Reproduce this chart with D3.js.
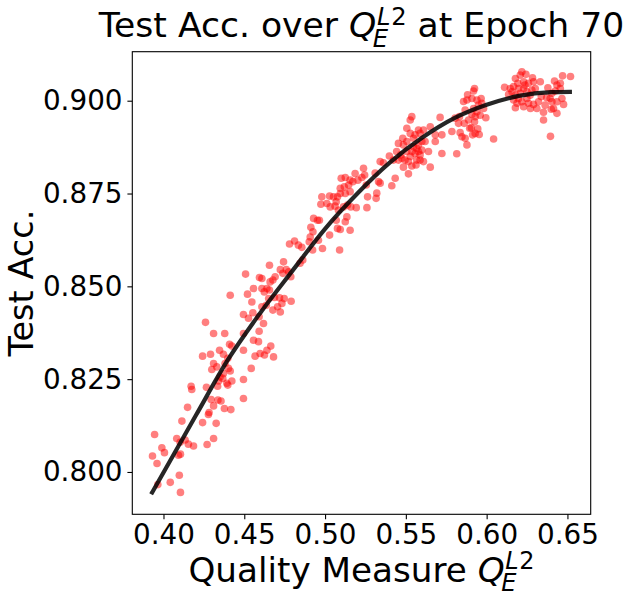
<!DOCTYPE html>
<html><head><meta charset="utf-8">
<script src="https://cdn.jsdelivr.net/npm/d3@7"></script>
<style>body{margin:0;background:#fff}svg{display:block}text{font-family:"DejaVu Sans",sans-serif;fill:#000}</style>
</head><body><svg id="chart" width="630" height="604"></svg>
<script>
const titlePre = "Test Acc. over";
const titlePost = "at Epoch 70";
const xLabelPre = "Quality Measure";
const yLabel = "Test Acc.";
const xTicks = [0.40, 0.45, 0.50, 0.55, 0.60, 0.65];
const yTicks = [0.800, 0.825, 0.850, 0.875, 0.900];

const pointQ = [
0.4260,0.4310,0.4379,0.4495,0.4526,0.4553,0.4592,0.4619,0.4592,0.4495,0.4557,0.4588,0.4409,0.4423,0.4495,0.4567,0.4598,0.4625,0.4242,0.4291,
0.4347,0.4371,0.4398,0.4381,0.4310,0.4330,0.4299,0.4402,0.4413,0.4371,0.4350,0.4341,0.4367,0.4423,0.4392,0.4398,0.4495,0.4543,0.4171,0.4175,
0.4266,0.4335,0.4495,0.4295,0.4337,0.4356,0.4310,0.4377,0.4417,0.4149,0.4282,0.4278,0.4114,0.4242,0.4326,0.3945,0.4082,0.4134,0.4103,0.4154,
0.4186,0.4310,0.4270,0.3990,0.4006,0.3932,0.4093,0.4105,0.3960,0.4098,0.4042,0.3965,0.4105,
0.5100,0.5125,0.5155,0.5172,0.5186,0.5203,0.5228,0.5245,0.5255,0.5146,0.5119,0.5094,0.5155,0.5125,0.5094,0.5077,0.5052,0.5028,0.4980,0.4974,
0.5011,0.5032,0.5069,0.5062,0.5083,0.5114,0.5139,0.5159,0.5193,0.5259,0.5263,0.5135,0.5125,0.5069,0.5077,0.5094,0.5155,0.5028,0.4953,0.4929,
0.4965,0.4912,0.4925,0.4908,0.4902,0.4959,0.4984,0.4923,0.5090,0.4856,0.4835,0.4811,0.4780,0.4862,0.4845,0.4743,0.4656,0.4723,0.4760,0.4775,
0.4788,0.4739,0.4691,0.4677,0.4660,0.4594,0.4609,0.4508,0.4640,0.4656,0.4609,0.4624,0.4557,0.4520,0.4413,0.4651,0.4687,0.4718,0.4747,0.4790,
0.4733,0.4706,0.4677,0.4723,0.4636,0.4609,0.4547,0.4664,0.4640,0.4681,
0.5238,0.5310,0.5341,0.5361,0.5398,0.5423,0.5454,0.5475,0.5443,0.5454,0.5481,0.5485,0.5506,0.5506,0.5527,0.5537,0.5527,0.5547,0.5557,0.5578,
0.5588,0.5609,0.5599,0.5578,0.5547,0.5537,0.5527,0.5557,0.5578,0.5588,0.5567,0.5563,0.5537,0.5609,0.5599,0.5619,0.5640,0.5651,0.5485,0.5516,
0.5495,0.5468,0.5434,0.5413,0.5341,0.5331,0.5320,0.5316,0.5651,0.5682,0.5682,0.5712,0.5723,0.5723,0.5785,0.5815,0.5805,0.5832,0.5826,0.5836,
0.5867,0.5878,0.5847,0.5867,0.5878,0.5857,0.5882,0.5888,0.5861,0.5895,0.5506,0.5567,0.5516,0.5588,
0.5925,0.5919,0.5909,0.5940,0.5966,0.5949,0.5970,0.5981,0.5995,0.5960,0.5929,0.5909,0.5940,0.5919,0.5925,0.5905,0.5945,0.5954,0.5929,0.5913,
0.6043,0.6111,0.6178,0.6208,0.6218,0.6243,0.6193,0.6229,0.6259,0.6284,0.6290,0.6229,0.6197,0.6167,0.6157,0.6136,0.6178,0.6208,0.6249,0.6280,
0.6301,0.6167,0.6188,0.6218,0.6249,0.6259,0.6178,0.6229,0.6290,0.6271,0.6332,0.6338,0.6321,0.6311,0.6362,0.6352,0.6352,0.6379,0.6393,0.6404,
0.6420,0.6435,0.6425,0.6456,0.6466,0.6435,0.6414,0.6400,0.6435,0.6476,0.6470,0.6519,0.6456,0.6395,0.6372,0.6404,0.6197,0.6237,0.6269,0.6146
];
const pointAcc = [
0.8403,0.8373,0.8373,0.8424,0.8414,0.8429,0.8418,0.8400,0.8379,0.8373,0.8355,0.8351,0.8344,0.8339,0.8328,0.8312,0.8319,0.8315,0.8312,0.8317,
0.8328,0.8317,0.8306,0.8292,0.8292,0.8283,0.8276,0.8279,0.8272,0.8265,0.8256,0.8245,0.8252,0.8245,0.8239,0.8234,0.8249,0.8279,0.8231,0.8222,
0.8228,0.8231,0.8198,0.8195,0.8194,0.8191,0.8178,0.8171,0.8168,0.8174,0.8160,0.8155,0.8137,0.8133,0.8131,0.8101,0.8090,0.8086,0.8080,0.8075,
0.8070,0.8090,0.8074,0.8065,0.8052,0.8043,0.8045,0.8048,0.8023,0.7991,0.7972,0.7966,0.7945,
0.8791,0.8793,0.8786,0.8782,0.8804,0.8786,0.8793,0.8800,0.8773,0.8773,0.8768,0.8764,0.8755,0.8750,0.8750,0.8741,0.8741,0.8743,0.8741,0.8721,
0.8723,0.8714,0.8728,0.8716,0.8705,0.8714,0.8719,0.8714,0.8712,0.8712,0.8741,0.8687,0.8674,0.8678,0.8656,0.8653,0.8651,0.8638,0.8678,0.8683,
0.8678,0.8659,0.8647,0.8633,0.8620,0.8624,0.8602,0.8598,0.8598,0.8605,0.8611,0.8622,0.8614,0.8571,0.8562,0.8566,0.8557,0.8545,0.8545,0.8539,
0.8526,0.8535,0.8526,0.8517,0.8512,0.8524,0.8521,0.8533,0.8494,0.8490,0.8494,0.8485,0.8494,0.8479,0.8476,0.8467,0.8470,0.8469,0.8467,0.8460,
0.8454,0.8445,0.8436,0.8431,0.8449,0.8445,0.8458,0.8339,0.8328,0.8310,
0.8818,0.8805,0.8836,0.8833,0.8851,0.8840,0.8840,0.8845,0.8863,0.8885,0.8899,0.8881,0.8890,0.8926,0.8948,0.8957,0.8912,0.8899,0.8908,0.8921,
0.8912,0.8921,0.8890,0.8881,0.8876,0.8863,0.8850,0.8858,0.8863,0.8854,0.8840,0.8827,0.8824,0.8836,0.8867,0.8890,0.8863,0.8821,0.8821,0.8803,
0.8840,0.8854,0.8791,0.8771,0.8778,0.8782,0.8751,0.8737,0.8930,0.8890,0.8908,0.8955,0.8908,0.8858,0.8917,0.8857,0.8953,0.8957,0.8939,0.8914,
0.8899,0.8881,0.8903,0.8975,0.9002,0.8998,0.9016,0.8948,0.8939,0.8926,0.8863,0.8872,0.8836,0.8840,
0.9033,0.9026,0.9006,0.9002,0.9006,0.8988,0.8993,0.8979,0.8954,0.8961,0.8957,0.8963,0.8970,0.8979,0.8943,0.8927,0.8924,0.8909,0.8912,0.8908,
0.8897,0.9036,0.9060,0.9069,0.9078,0.9071,0.9047,0.9051,0.9047,0.9062,0.9051,0.9033,0.9033,0.9038,0.9024,0.9017,0.9015,0.9020,0.9024,0.9029,
0.9033,0.9002,0.8993,0.8997,0.9006,0.8993,0.8981,0.8984,0.8990,0.8979,0.9051,0.9011,0.8997,0.8979,0.8988,0.8969,0.8948,0.9035,0.9006,0.9020,
0.9053,0.9042,0.9026,0.9033,0.9006,0.8997,0.8979,0.8977,0.8966,0.8990,0.9067,0.9065,0.9047,0.8904,0.9008,0.8997,0.9006,0.9042,0.9015,0.9033
];
const fitQ = [0.393, 0.42, 0.44, 0.46, 0.48, 0.50, 0.52, 0.54, 0.56, 0.58, 0.60, 0.62, 0.64, 0.6515];
const fitAcc = [0.7945, 0.8152, 0.8303, 0.8429, 0.8543, 0.8655, 0.8750, 0.8833, 0.8900, 0.8953, 0.8989, 0.9013, 0.9023, 0.9024];

const L = 132.3, R = 590.7, T = 51.7, B = 514.3;
const svg = d3.select("#chart");
const x = d3.scaleLinear().domain([0.3807, 0.6644]).range([L, R]);
const y = d3.scaleLinear().domain([0.7886, 0.9132]).range([B, T]);
const tickFont = 27.8, titleFont = 34.6, xLabelFont = 34.2, yLabelFont = 33.6;

// points
const pts = pointQ.map((q, i) => [q, pointAcc[i]]);
svg.append("g").selectAll("circle").data(pts).join("circle")
  .attr("cx", d => x(d[0])).attr("cy", d => y(d[1])).attr("r", 3.8)
  .attr("fill", "rgb(255,0,0)").attr("fill-opacity", 0.5);

// fit line
const fit = fitQ.map((q, i) => [q, fitAcc[i]]);
svg.append("path").datum(fit)
  .attr("d", d3.line().x(d => x(d[0])).y(d => y(d[1])).curve(d3.curveMonotoneX))
  .attr("fill", "none").attr("stroke", "#000").attr("stroke-opacity", 0.85)
  .attr("stroke-width", 4.2).attr("stroke-linecap", "square");

// axes
const xAxis = svg.append("g").attr("transform", `translate(0,${B})`)
  .call(d3.axisBottom(x).tickValues(xTicks).tickFormat(d3.format(".2f")).tickSize(4.9).tickPadding(4.9).tickSizeOuter(0));
const yAxis = svg.append("g").attr("transform", `translate(${L},0)`)
  .call(d3.axisLeft(y).tickValues(yTicks).tickFormat(d3.format(".3f")).tickSize(4.9).tickPadding(4.9).tickSizeOuter(0));
[xAxis, yAxis].forEach(a => {
  a.select(".domain").remove();
  a.selectAll(".tick line").attr("stroke", "#000").attr("stroke-width", 1.1);
  a.selectAll(".tick text").attr("font-size", tickFont).attr("font-family", "DejaVu Sans").attr("fill", "#000");
});

// frame
svg.append("rect").attr("x", L).attr("y", T).attr("width", R - L).attr("height", B - T)
  .attr("fill", "none").attr("stroke", "#000").attr("stroke-width", 1.1);

// math label helper: pre + Q_E^{L2} + post
function mathLabel(cx, base, s, pre, post) {
  const g = svg.append("g");
  let cur = 0;
  const add = (txt, px, py, size, italic) => {
    const t = g.append("text").attr("x", px).attr("y", py).attr("font-size", size)
      .attr("font-style", italic ? "italic" : "normal").text(txt);
    return t.node().getComputedTextLength();
  };
  cur += add(pre, cur, 0, s, false);
  cur += 0.318 * s;
  cur += add("Q", cur, 0, s, true);
  const ss = 0.7 * s;
  const supStart = cur + 0.02 * s;
  let w = add("L", supStart, -0.356 * s, ss, true);
  w += add("2", supStart + w + 0.02 * s, -0.356 * s, ss, false) + 0.02 * s;
  const wsub = add("E", cur - 0.1 * s, 0.27 * s, ss, true) - 0.1 * s;
  cur = Math.max(supStart + w, cur + wsub);
  if (post) {
    cur += 0.318 * s;
    cur += add(post, cur, 0, s, false);
  }
  g.attr("transform", `translate(${cx - cur / 2},${base})`);
}
mathLabel((L + R) / 2, 37.4, titleFont, titlePre, titlePost);
mathLabel((L + R) / 2, 581.5, xLabelFont, xLabelPre, null);

svg.append("text").attr("transform", `translate(33.3,${(T + B) / 2}) rotate(-90)`)
  .attr("text-anchor", "middle").attr("font-size", yLabelFont).text(yLabel);
</script></body></html>
